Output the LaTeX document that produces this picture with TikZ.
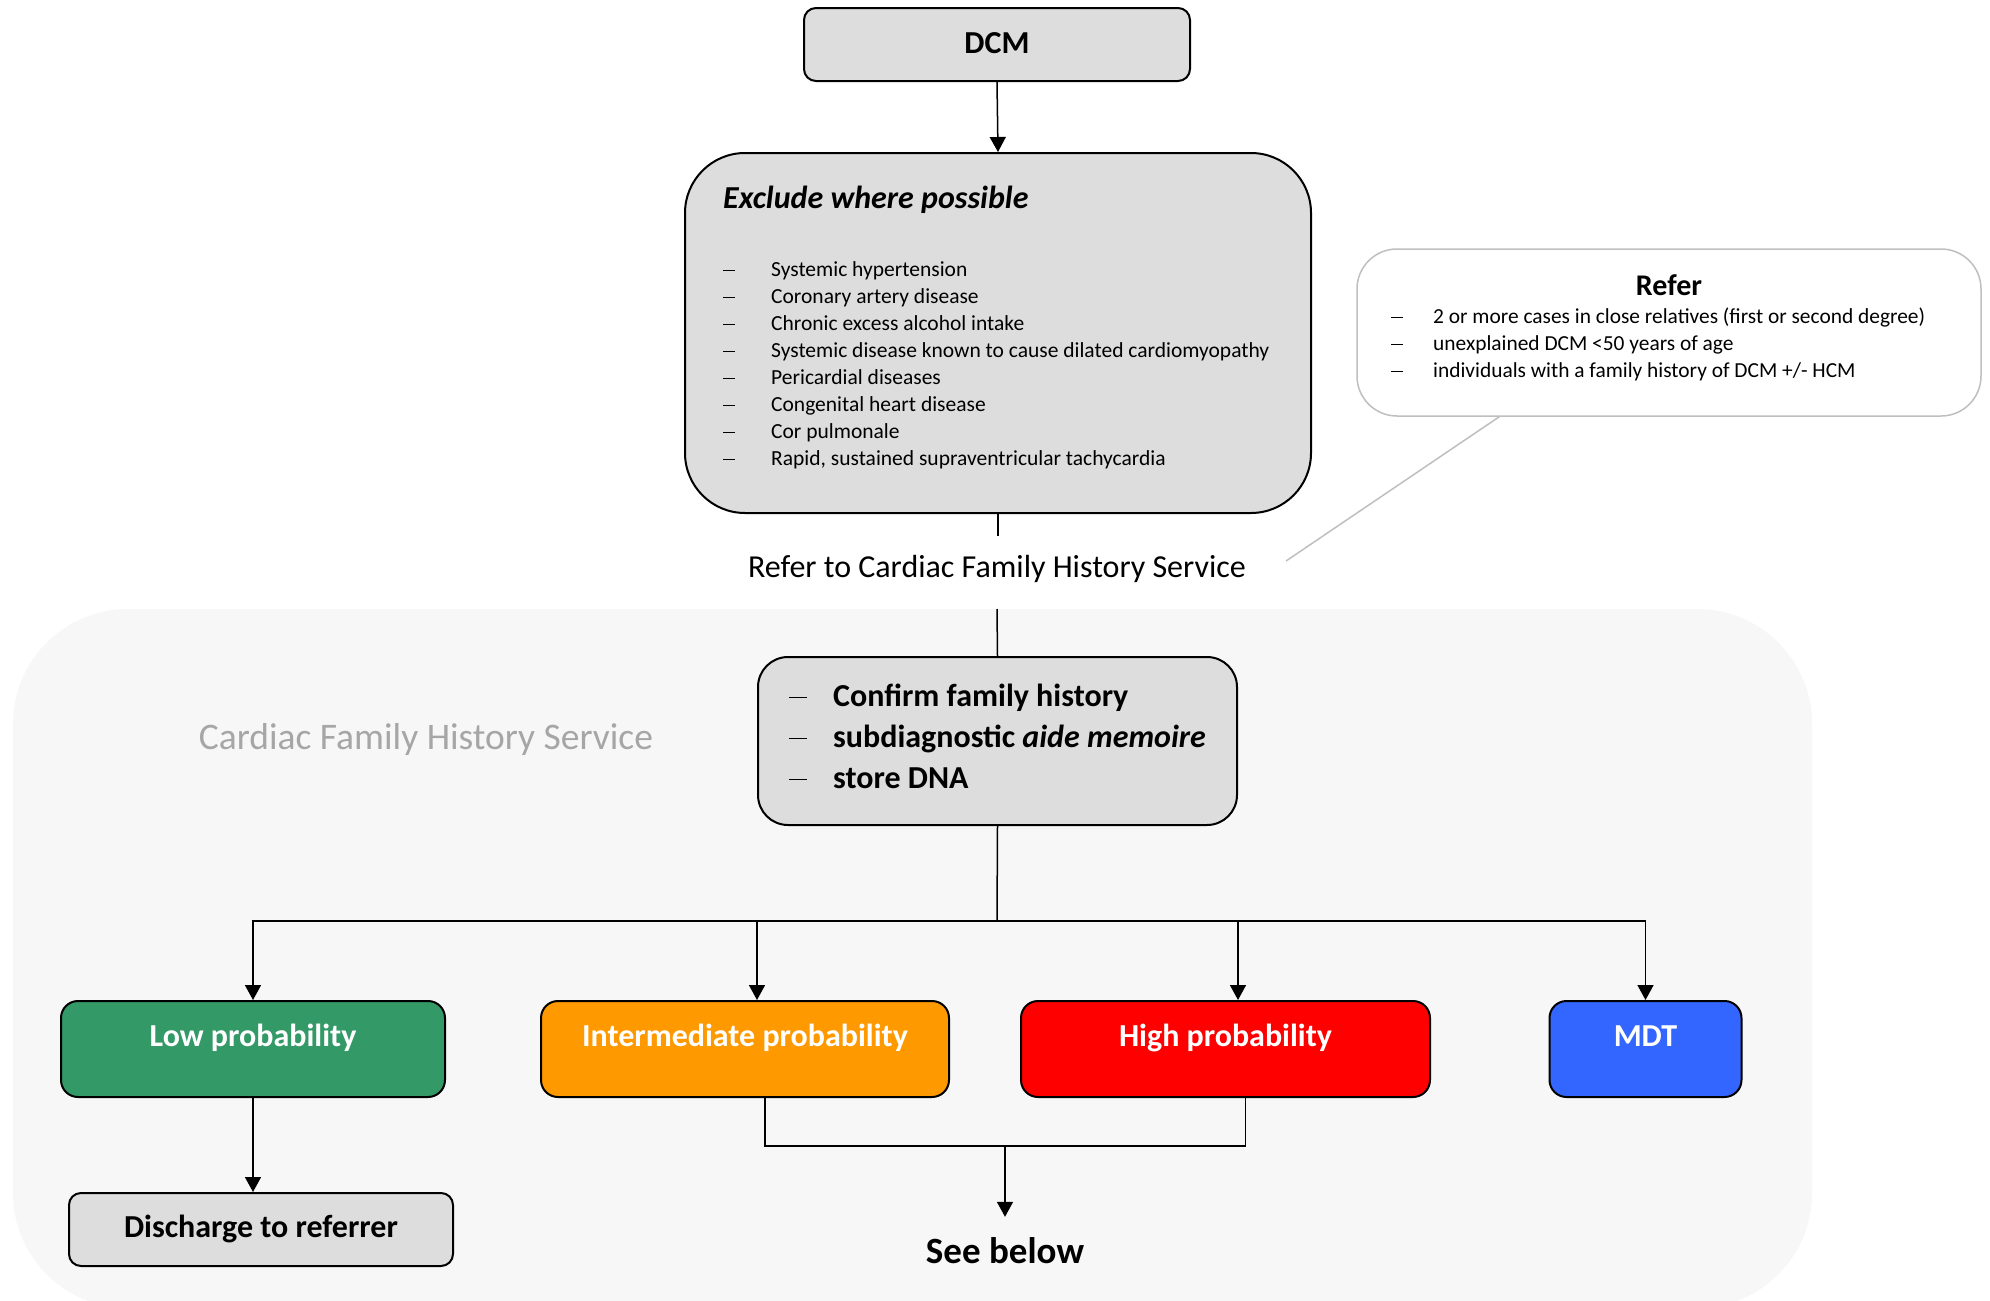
\documentclass[tikz,border=0pt]{standalone}
\usepackage{fontspec}
\setmainfont{Carlito}
\usetikzlibrary{arrows.meta,calc}

\definecolor{boxfill}{HTML}{DDDDDD}
\definecolor{panelfill}{HTML}{F7F7F7}
\definecolor{lowgreen}{HTML}{339966}
\definecolor{midorange}{HTML}{FF9900}
\definecolor{highred}{HTML}{FF0000}
\definecolor{mdtblue}{HTML}{3366FF}
\definecolor{softgrey}{HTML}{BFBFBF}
\definecolor{labelgrey}{HTML}{A6A6A6}

\newcommand{\fsz}[1]{\fontsize{#1}{#1}\selectfont}
% list dash: a thin rule, as wide as a wide en dash
\newcommand{\listdash}[1]{\makebox[#1][l]{\rule[0.24em]{0.55em}{0.055em}}}

\begin{document}
\begin{tikzpicture}[x=1pt,y=-1pt,
  greybox/.style={draw=black,line width=2pt,fill=boxfill,inner sep=0pt},
  colbox/.style={draw=black,line width=2pt,fill=#1,rounded corners=17pt,
    minimum height=96pt,inner sep=0pt,text=white,font=\fsz{32}\bfseries,
    text height=22pt,text depth=28pt},
  conn/.style={draw=black,line width=1.5pt},
  arr/.style={conn,-{Triangle[width=16pt,length=15pt]}},
  item/.style={anchor=base west,inner sep=0pt},
]
% page and panel
\useasboundingbox (0,0) rectangle (1990,1301);
\fill[white] (0,0) rectangle (1990,1301);
\fill[panelfill,rounded corners=115pt] (13,609) rectangle (1812,1308);

% top of the pathway
\node[greybox,rounded corners=12pt,minimum width=386pt,minimum height=73pt,
  font=\fsz{32}\bfseries,text height=22pt,text depth=5pt] (dcm) at (997,44.5) {DCM};

\node[greybox,rounded corners=60pt,minimum width=626pt,minimum height=360pt] (exclude) at (998,333) {};
\node[item,font=\fsz{32}\bfseries\itshape] (extitle) at (723,208) {Exclude where possible};
\foreach \t [count=\i] in {Systemic hypertension,Coronary artery disease,
  Chronic excess alcohol intake,Systemic disease known to cause dilated cardiomyopathy,
  Pericardial diseases,Congenital heart disease,Cor pulmonale,
  {Rapid, sustained supraventricular tachycardia}}
  \node[item,font=\fsz{21.5}] (ex\i) at (723,{276+27*(\i-1)}) {\listdash{48pt}\t};

\draw[arr] (dcm.south) -- (exclude.north);

% referral criteria callout
\node[draw=softgrey,line width=1.5pt,fill=white,rounded corners=40pt,
  minimum width=624pt,minimum height=167pt,inner sep=0pt] (refer) at (1669,332.5) {};
\node[anchor=base,inner sep=0pt,font=\fsz{30}\bfseries] (refertitle) at (1669,295) {Refer};
\foreach \t [count=\i] in {2 or more cases in close relatives (first or second degree),
  unexplained DCM <50 years of age,
  individuals with a family history of DCM +/- HCM}
  \node[item,font=\fsz{21.4}] (rf\i) at (1391,{323+27*(\i-1)}) {\listdash{42pt}\t};
\coordinate (callouttip) at (1286,561);
\draw[softgrey,line width=1.5pt] ($(refer.south west)+(143,0)$) -- (callouttip);

% referral step
\node[anchor=base,inner sep=0pt,font=\fsz{32}] (referline) at (997,577) {Refer to Cardiac Family History Service};
\draw[conn] (exclude.south) -- (exclude.south |- 0,536);

% service panel
\node[anchor=base,inner sep=0pt,font=\fsz{37.5},text=labelgrey] (service) at (426,749) {Cardiac Family History Service};

\node[greybox,rounded corners=30pt,minimum width=479pt,minimum height=168pt] (confirm) at (997.5,741) {};
\node[item,font=\fsz{32}\bfseries] (cf1) at (789,706) {\listdash{44pt}Confirm family history};
\node[item,font=\fsz{32}\bfseries] (cf2) at (789,747) {\listdash{44pt}subdiagnostic \textit{aide memoire}};
\node[item,font=\fsz{32}\bfseries] (cf3) at (789,788) {\listdash{44pt}store DNA};

\coordinate (paneltop) at (997,609);
\draw[conn] (paneltop) -- (confirm.north);

% outcome boxes
\node[colbox=lowgreen,minimum width=384pt] (low) at (253,1049) {Low probability};
\node[colbox=midorange,minimum width=408pt] (inter) at (745,1049) {Intermediate probability};
\node[colbox=highred,minimum width=409pt] (high) at (1225.5,1049) {High probability};
\node[colbox=mdtblue,minimum width=192pt] (mdt) at (1645.5,1049) {MDT};

\coordinate (bus) at (997,921);
\draw[conn] (confirm.south) -- (bus);
\draw[arr] (bus) -| (low.north);
\draw[arr] (bus) -| (inter.north -| confirm.west);
\draw[arr] (bus) -| (high.north -| confirm.east);
\draw[arr] (bus) -| (mdt.north);

% low probability branch
\node[greybox,rounded corners=12pt,minimum width=384pt,minimum height=73pt,
  font=\fsz{32}\bfseries,text height=22pt,text depth=7pt] (discharge) at (261,1229.5) {Discharge to referrer};
\draw[arr] (low.south) -- (low.south |- discharge.north);

% intermediate and high branches
\node[anchor=base,inner sep=0pt,font=\fsz{37}\bfseries,text height=46pt] (seebelow) at (1005,1263) {See below};
\coordinate (join) at (1005,1145);
\draw[conn] ($(inter.south)+(20,0)$) -- ++(0,48) -| ($(high.south)+(20,0)$);
\draw[arr] (join) -- (seebelow.north);
\end{tikzpicture}
\end{document}
